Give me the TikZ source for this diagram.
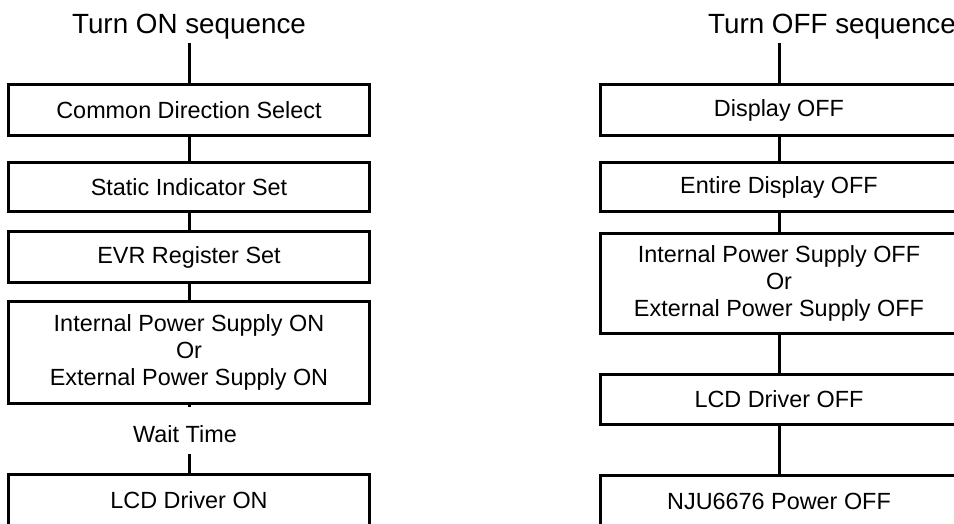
\documentclass[tikz,border=0pt]{standalone}
\usepackage{fontspec}
\setmainfont{Liberation Sans}
\usepackage{tikz}

\begin{document}
\begin{tikzpicture}[x=0.5pt,y=-0.5pt,
    box/.style={draw, line width=1.5pt, align=center, inner sep=0pt,
        font=\fontsize{11.7}{13.5}\selectfont},
    onbox/.style={box, minimum width=180.5pt},
    offbox/.style={box, minimum width=178.5pt},
    heading/.style={font=\fontsize{13.9}{16}\selectfont, inner sep=1.5pt, anchor=base},
    pause/.style={font=\fontsize{11.7}{13.5}\selectfont, inner sep=0pt, anchor=base,
        text height=17.5pt, text depth=6pt},
    link/.style={line width=1.5pt}]
    % Page of the same size as the reference
    \useasboundingbox (0,0) rectangle (954,524);
    \clip (0,0) rectangle (954,524);
    % Turn ON sequence
    \node[heading] (ontitle) at (189,34) {Turn ON sequence};
    \node[onbox, minimum height=25.5pt] (on1) at (189,110) {Common Direction Select};
    \node[onbox, minimum height=24.5pt] (on2) at (189,187) {Static Indicator Set};
    \node[onbox, minimum height=25.5pt] (on3) at (189,257) {EVR Register Set};
    \node[onbox, minimum height=51pt] (on4) at (189,352)
        {Internal Power Supply ON\\Or\\External Power Supply ON};
    \node[pause] (wait) at (185,442) {Wait Time};
    \node[onbox, minimum height=25.5pt] (on5) at (189,500) {LCD Driver ON};
    % Turn OFF sequence
    \node[heading] (offtitle) at (832,34) {Turn OFF sequence};
    \node[offbox, minimum height=25.5pt] (off1) at (779,110) {Display OFF};
    \node[offbox, minimum height=24.5pt] (off2) at (779,187) {Entire Display OFF};
    \node[offbox, minimum height=50pt] (off3) at (779,283.5)
        {Internal Power Supply OFF\\Or\\External Power Supply OFF};
    \node[offbox, minimum height=25pt] (off4) at (779,399.5) {LCD Driver OFF};
    \node[offbox, minimum height=25.5pt] (off5) at (779,501) {NJU6676 Power OFF};
    % Lines from the headings down to the first steps
    \draw[link] (ontitle.south -| on1.north) -- (on1.north);
    \draw[link] (offtitle.south -| off1.north) -- (off1.north);
    % Lines between the steps
    \foreach \a/\b in {on1/on2, on2/on3, on3/on4, off1/off2, off2/off3, off3/off4, off4/off5}
        \draw[link] (\a.south) -- (\b.north);
    % Wait time between the last two ON steps
    \draw[link] (on4.south) -- (on4.south |- wait.north);
    \draw[link] (on5.north |- wait.south) -- (on5.north);
\end{tikzpicture}
\end{document}
